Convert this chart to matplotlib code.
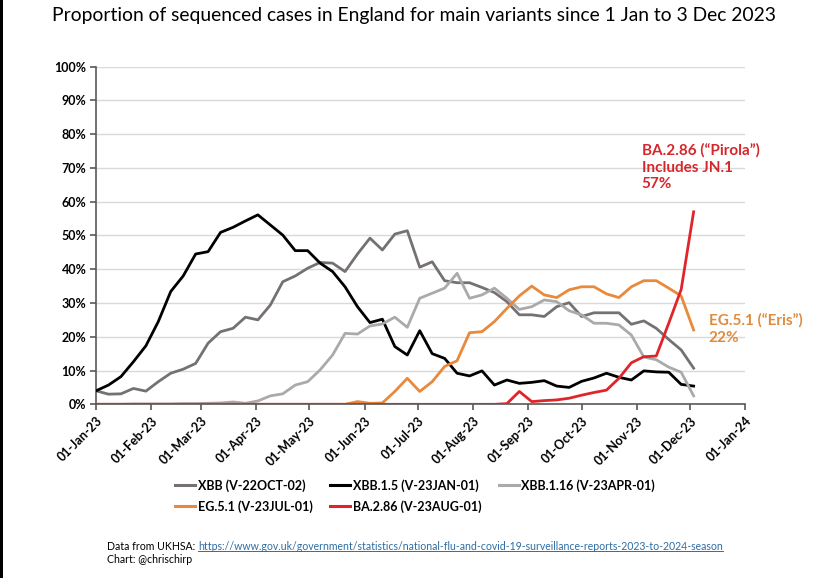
import numpy as np
import pandas as pd
import matplotlib
matplotlib.use('Agg')
import matplotlib.pyplot as plt
import matplotlib.dates as mdates
from matplotlib.lines import Line2D
from matplotlib.patches import Rectangle

plt.rcParams['font.family'] = ['Lato', 'DejaVu Sans']

# weekly dates, 1 Jan to 3 Dec 2023
dates = pd.date_range('2023-01-01', periods=49, freq='7D')

xbb = [4.0, 3.0, 3.1, 4.7, 3.9, 6.7, 9.2, 10.4, 12.1, 18.1, 21.5, 22.5, 25.8, 25.0,
       29.4, 36.3, 38.0, 40.3, 42.0, 41.8, 39.3, 44.5, 49.2, 45.7, 50.4, 51.4, 40.6,
       42.2, 36.6, 36.0, 36.0, 34.6, 33.1, 30.4, 26.5, 26.5, 26.0, 28.9, 30.1, 26.0,
       27.1, 27.1, 27.1, 23.7, 24.7, 22.5, 19.2, 16.1, 10.7]
xbb15 = [4.0, 5.7, 8.2, 12.6, 17.3, 24.5, 33.4, 38.0, 44.5, 45.2, 50.9, 52.4, 54.3, 56.1,
         53.1, 50.1, 45.5, 45.5, 41.8, 39.3, 34.8, 28.9, 24.2, 25.2, 17.1, 14.6, 21.8,
         15.0, 13.6, 9.2, 8.4, 9.9, 5.7, 7.2, 6.2, 6.5, 7.0, 5.4, 5.0, 6.8, 7.8, 9.2,
         8.0, 7.2, 9.9, 9.6, 9.5, 5.9, 5.4]
xbb116 = [0.0, 0.0, 0.0, 0.1, 0.1, 0.1, 0.1, 0.2, 0.2, 0.3, 0.4, 0.7, 0.3, 1.0,
          2.5, 3.1, 5.7, 6.7, 10.2, 14.6, 21.0, 20.8, 23.2, 23.8, 25.8, 22.8, 31.4,
          32.9, 34.4, 38.8, 31.4, 32.4, 34.4, 31.4, 28.1, 28.9, 30.9, 30.4, 27.7, 26.5,
          24.0, 24.0, 23.5, 20.5, 14.0, 13.2, 11.0, 9.5, 2.5]
eg51 = [0.0] * 21 + [0.8, 0.3, 0.4, 3.8, 7.7, 3.8, 6.7, 11.2, 12.9, 21.2, 21.5, 24.5,
                     28.4, 32.1, 35.0, 32.4, 31.6, 33.9, 34.8, 34.8, 32.7, 31.6, 34.8,
                     36.6, 36.6, 34.4, 32.1, 22.0]
ba286 = [0.0] * 33 + [0.2, 3.8, 0.8, 1.1, 1.3, 1.8, 2.7, 3.5, 4.2, 7.7, 12.3, 14.1,
                      14.3, 24.0, 34.0, 57.0]

labels = ['XBB (V-22OCT-02)', 'XBB.1.5 (V-23JAN-01)', 'XBB.1.16 (V-23APR-01)',
          'EG.5.1 (V-23JUL-01)', 'BA.2.86 (V-23AUG-01)']
colors = ['#767171', '#000000', '#aaaaaa', '#e8893c', '#e0252a']

fig = plt.figure(figsize=(8.28, 5.78), dpi=100)
ax = fig.add_axes([0.116, 0.3005, 0.784, 0.5843])

for vals, lab, col in zip([xbb, xbb15, xbb116, eg51, ba286], labels, colors):
    ax.plot(dates, np.array(vals) / 100, color=col, lw=2.0, label=lab, zorder=3)

ax.set_xlim(pd.Timestamp('2023-01-01'), pd.Timestamp('2024-01-01'))
ax.set_ylim(0, 1)
ax.set_yticks(np.arange(0, 1.01, 0.1))
ax.set_yticklabels(['%d%%' % v for v in range(0, 101, 10)], fontweight='bold', fontsize=9)
ax.xaxis.set_major_locator(mdates.MonthLocator())
ax.xaxis.set_major_formatter(mdates.DateFormatter('%d-%b-%y'))
for t in ax.get_xticklabels():
    t.set_rotation(45)
    t.set_ha('right')
    t.set_rotation_mode('anchor')
    t.set_fontweight('bold')
    t.set_fontsize(9)

ax.grid(axis='y', color='#d9d9d9', lw=1)
ax.set_axisbelow(True)
for s in ['top', 'right']:
    ax.spines[s].set_visible(False)
for s in ['left', 'bottom']:
    ax.spines[s].set_color('#595959')
    ax.spines[s].set_linewidth(1.2)
ax.tick_params(axis='both', direction='out', length=4, color='#595959', width=1.2)
ax.tick_params(axis='y', pad=3)

fig.text(0.5, 0.973, 'Proportion of sequenced cases in England for main variants since 1 Jan to 3 Dec 2023',
         ha='center', va='center', fontsize=13.9)

fig.text(0.775, 0.752, 'BA.2.86 (\u201cPirola\u201d)\nIncludes JN.1\n57%', color='#d7262b',
         fontsize=11, fontweight='bold', ha='left', va='top', linespacing=1.25)
fig.text(0.856, 0.458, 'EG.5.1 (\u201cEris\u201d)\n22%', color='#e08a3c',
         fontsize=11, fontweight='bold', ha='left', va='top', linespacing=1.25)

# legend filled by column, so reorder to read row by row
order = [0, 3, 1, 4, 2]
handles = [Line2D([0], [0], color=colors[i], lw=2.2) for i in order]
fig.legend(handles, [labels[i] for i in order], loc='upper left',
           bbox_to_anchor=(0.207, 0.178), ncol=3, frameon=False,
           prop={'weight': 'bold', 'size': 9}, handlelength=1.6, handletextpad=0.2,
           columnspacing=1.4, labelspacing=0.7, borderaxespad=0, borderpad=0.3)

t1 = fig.text(107 / 828, 0.055, 'Data from UKHSA:', fontsize=7.6, ha='left', va='center')
url = fig.text(198 / 828, 0.055,
               'https://www.gov.uk/government/statistics/national-flu-and-covid-19-surveillance-reports-2023-to-2024-season',
               fontsize=7.6, ha='left', va='center', color='#2e6da4')
fig.text(107 / 828, 0.032, 'Chart: @chrischirp', fontsize=7.6, ha='left', va='center')

# underline the link
fig.canvas.draw()
bb = url.get_window_extent().transformed(fig.transFigure.inverted())
fig.add_artist(Line2D([bb.x0, bb.x1], [bb.y0 + 0.002, bb.y0 + 0.002], color='#2e6da4',
                      lw=0.7, transform=fig.transFigure))

# dark strip on the left edge of the screenshot
fig.add_artist(Rectangle((0, 0), 3 / 828, 1, transform=fig.transFigure,
                         color='black', lw=0))

fig.savefig('out.png', dpi=100)
